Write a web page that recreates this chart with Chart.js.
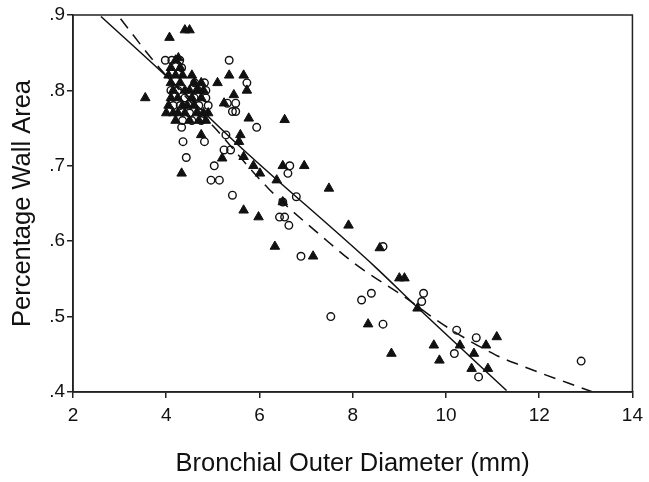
<!DOCTYPE html>
<html>
<head>
<meta charset="utf-8">
<script src="https://cdn.jsdelivr.net/npm/chart.js@4/dist/chart.umd.min.js"></script>
<style>
  html, body { margin: 0; padding: 0; background: #fff; }
  #wrap { width: 649px; height: 482px; }
</style>
</head>
<body>
<div id="wrap"><canvas id="c" width="649" height="482"></canvas></div>
<script>
// Filled triangles
const triX = [4.07, 4.40, 4.50, 3.55, 4.26, 5.35, 5.10, 5.66, 5.73, 4.75, 5.45, 5.24, 5.77, 6.54, 4.75, 5.59, 4.33, 5.66, 5.87, 6.50, 6.01, 6.37, 5.56, 5.20, 6.96, 7.49, 6.50, 5.66, 5.98, 7.91, 6.33, 7.15, 8.58, 9.00, 9.11, 8.33, 8.83, 9.39, 9.74, 10.30, 11.09, 10.86, 10.60, 9.86, 10.55, 10.90,
  4.05, 4.10, 4.15, 4.20, 4.25, 4.30, 4.05, 4.15, 4.10, 4.35, 4.40, 4.50, 4.55, 4.60, 4.65, 4.70, 4.75, 4.80, 4.85, 4.50, 4.60, 4.70, 4.45, 4.25, 4.00, 4.30, 4.20,
  4.20, 4.40, 4.65, 4.55, 4.10, 4.35, 4.80, 4.90];
const triY = [0.870, 0.880, 0.880, 0.790, 0.843, 0.820, 0.810, 0.820, 0.800, 0.810, 0.794, 0.783, 0.763, 0.761, 0.741, 0.741, 0.690, 0.712, 0.700, 0.700, 0.690, 0.681, 0.732, 0.710, 0.700, 0.670, 0.652, 0.641, 0.632, 0.621, 0.593, 0.580, 0.591, 0.551, 0.551, 0.490, 0.451, 0.511, 0.462, 0.462, 0.473, 0.462, 0.451, 0.442, 0.431, 0.431,
  0.820, 0.810, 0.800, 0.820, 0.790, 0.810, 0.780, 0.770, 0.790, 0.780, 0.770, 0.800, 0.790, 0.780, 0.770, 0.800, 0.790, 0.770, 0.760, 0.760, 0.810, 0.760, 0.780, 0.770, 0.770, 0.830, 0.840,
  0.760, 0.800, 0.800, 0.820, 0.830, 0.820, 0.800, 0.770];
// Open circles
const circX = [3.98, 4.12, 4.29, 4.33, 5.35, 5.73, 4.61, 4.82, 4.85, 5.31, 5.49, 5.42, 5.49, 5.94, 4.33, 4.82, 4.36, 5.28, 4.43, 5.24, 5.38, 5.03, 4.96, 5.14, 5.42, 6.65, 6.61, 6.79, 6.50, 6.43, 6.54, 6.63, 6.89, 8.19, 8.40, 7.53, 8.65, 8.65, 9.52, 9.48, 10.23, 10.65, 10.18, 10.70, 12.90,
  4.10, 4.25, 4.40, 4.50, 4.60, 4.70, 4.75, 4.85, 4.35, 4.30, 4.15, 4.55, 4.90];
const circY = [0.840, 0.840, 0.840, 0.830, 0.840, 0.810, 0.810, 0.810, 0.790, 0.783, 0.783, 0.772, 0.772, 0.751, 0.751, 0.732, 0.732, 0.741, 0.711, 0.721, 0.721, 0.700, 0.681, 0.681, 0.661, 0.700, 0.690, 0.659, 0.652, 0.632, 0.632, 0.621, 0.580, 0.522, 0.531, 0.500, 0.593, 0.490, 0.531, 0.520, 0.482, 0.472, 0.451, 0.420, 0.441,
  0.800, 0.800, 0.790, 0.770, 0.790, 0.780, 0.760, 0.800, 0.760, 0.780, 0.780, 0.760, 0.780];
// Fitted curves
const solidX = [2.60, 3.98, 5.59, 8.48, 9.39, 11.30];
const solidY = [0.898, 0.820, 0.725, 0.566, 0.512, 0.402];
const dashX = [3.02, 3.77, 5.06, 6.19, 7.42, 8.05, 9.11, 9.95, 11.07, 11.57, 13.15];
const dashY = [0.895, 0.836, 0.749, 0.670, 0.602, 0.570, 0.526, 0.489, 0.449, 0.436, 0.400];
const xTicks = [2, 4, 6, 8, 10, 12, 14];
const yTicks = [0.4, 0.5, 0.6, 0.7, 0.8, 0.9];

const pts = (xs, ys) => xs.map((x, i) => ({ x: x, y: ys[i] }));

const framePlugin = {
  id: 'frame',
  afterDraw(chart) {
    const a = chart.chartArea, ctx = chart.ctx;
    ctx.save();
    ctx.strokeStyle = '#222';
    ctx.lineWidth = 1.5;
    ctx.strokeRect(a.left, a.top, a.right - a.left, a.bottom - a.top);
    ctx.restore();
  }
};

const FONT = "'Liberation Sans', Arial, Helvetica, sans-serif";

new Chart(document.getElementById('c'), {
  type: 'scatter',
  data: {
    datasets: [
      { label: 'triangles', data: pts(triX, triY), pointStyle: 'triangle', pointRadius: 5.5,
        backgroundColor: '#111', borderColor: '#111', borderWidth: 1, order: 0 },
      { label: 'circles', data: pts(circX, circY), pointStyle: 'circle', pointRadius: 3.8,
        backgroundColor: 'rgba(255,255,255,0)', borderColor: '#111', borderWidth: 1.4, order: 0 },
      { label: 'solid', data: pts(solidX, solidY), showLine: true, pointRadius: 0, borderColor: '#111',
        borderWidth: 1.5, cubicInterpolationMode: 'monotone', order: 1 },
      { label: 'dashed', data: pts(dashX, dashY), showLine: true, pointRadius: 0, borderColor: '#111',
        borderWidth: 1.5, borderDash: [12, 8], cubicInterpolationMode: 'monotone', order: 1 }
    ]
  },
  options: {
    responsive: false,
    animation: false,
    events: [],
    layout: { padding: { top: 15, right: 7, left: 0, bottom: 0 } },
    plugins: { legend: { display: false }, tooltip: { enabled: false } },
    scales: {
      x: {
        type: 'linear', min: 2, max: 14,
        afterBuildTicks: s => { s.ticks = xTicks.map(v => ({ value: v })); },
        afterFit: s => { s.height = 90; },
        grid: { drawOnChartArea: false, drawTicks: true, tickLength: 6, color: '#222', lineWidth: 1.5 },
        border: { color: '#222', width: 1.5 },
        ticks: { color: '#111', font: { family: FONT, size: 19 }, padding: 6, maxRotation: 0 },
        title: { display: true, text: 'Bronchial Outer Diameter (mm)', color: '#111',
          font: { family: FONT, size: 25.5 }, padding: { top: 0, bottom: 3 } }
      },
      y: {
        type: 'linear', min: 0.4, max: 0.9,
        afterBuildTicks: s => { s.ticks = yTicks.map(v => ({ value: v })); },
        afterFit: s => { s.width = 73; },
        grid: { drawOnChartArea: false, drawTicks: true, tickLength: 6, color: '#222', lineWidth: 1.5 },
        border: { color: '#222', width: 1.5 },
        ticks: { color: '#111', font: { family: FONT, size: 19 }, padding: 2,
          callback: v => v.toFixed(1).replace(/^0/, '') },
        title: { display: true, text: 'Percentage Wall Area', color: '#111',
          font: { family: FONT, size: 25.5 }, padding: { top: 8, bottom: 0 } }
      }
    }
  },
  plugins: [framePlugin]
});
</script>
</body>
</html>
